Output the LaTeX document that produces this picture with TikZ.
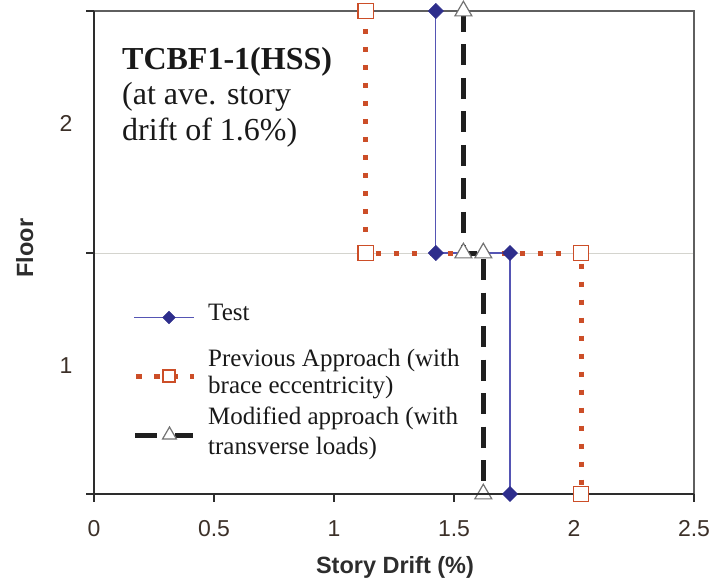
\documentclass[tikz,border=0pt]{standalone}
\usepackage{fontspec}
\setmainfont{Liberation Serif}
\setsansfont{Liberation Sans}
\usetikzlibrary{shapes.geometric}
\definecolor{tblue}{RGB}{46,46,140}
\definecolor{tline}{RGB}{85,85,180}
\definecolor{porange}{RGB}{204,78,40}
\definecolor{axcol}{RGB}{45,45,45}
\definecolor{framecol}{RGB}{95,95,95}
\definecolor{gridcol}{RGB}{212,212,206}
\definecolor{lblcol}{RGB}{60,48,40}
\begin{document}
\begin{tikzpicture}[x=1pt,y=-1pt,
 testline/.style={tline, line width=1.2pt},
 prevline/.style={porange, line width=5pt, dash pattern=on 5.5pt off 12.5pt},
 modline/.style={black!88, line width=5pt, dash pattern=on 21pt off 12.5pt},
 testmark/.style={diamond, aspect=1, fill=tblue, draw=tblue, inner sep=0pt, minimum width=15.5pt, minimum height=15.5pt},
 prevmark/.style={rectangle, draw=porange, fill=white, line width=1.3pt, inner sep=0pt, minimum size=15.5pt},
 modmark/.style={regular polygon, regular polygon sides=3, draw=black!55, fill=white, line width=1.2pt, inner sep=0pt, minimum size=19.5pt},
 ticklbl/.style={font=\sffamily\fontsize{23}{23}\selectfont, text=lblcol, anchor=base, inner sep=0pt},
 axtitle/.style={font=\sffamily\bfseries\fontsize{23.5}{23.5}\selectfont, text=axcol, anchor=base, inner sep=0pt},
 ttl/.style={font=\fontsize{32}{36}\selectfont, anchor=base west, text=black!90, inner sep=0pt},
 leg/.style={font=\fontsize{25}{29}\selectfont, anchor=base west, text=black!90, inner sep=0pt},
 axline/.style={axcol, line width=2pt},
 frameline/.style={framecol, line width=1.6pt},
 gridline/.style={gridcol, line width=1pt},
]
\useasboundingbox (0,0) rectangle (714,585);
% axes corners
\coordinate (TL) at (94,11);
\coordinate (TR) at (694,11);
\coordinate (BL) at (94,494);
\coordinate (BR) at (694,494);
\coordinate (ML) at (94,253);
\coordinate (MR) at (694,253);
% grid and frame
\draw[gridline] (ML) -- (MR);
\draw[frameline] (86,11) -- (TR) -- (BR);
% series coordinates
\coordinate (t2) at (435.8,11);
\coordinate (t1a) at (435.8,253);
\coordinate (t1b) at (510,253);
\coordinate (t0) at (510,494);
\coordinate (p2) at (365.7,11);
\coordinate (p1a) at (365.7,253);
\coordinate (p1b) at (581,253);
\coordinate (p0) at (581,494);
\coordinate (m2) at (463.4,11);
\coordinate (m1a) at (463.4,253);
\coordinate (m1b) at (483.3,253);
\coordinate (m0) at (483.3,494);
% series lines
\draw[testline] (t2) -- (t1a) -- (t1b) -- (t0);
\draw[prevline] (p2) -- (p1a) -- (p1b) -- (p0);
\draw[modline] (m2) -- (m1a) -- (m1b) -- (m0);
% markers (bottom triangle sits under the axis)
\node[modmark] (M0) at (m0) {};
% axes
\draw[axline] (TL) -- (BL);
\draw[axline] (86,494) -- (BR);
\foreach \yy in {11,253,494} \draw[axline] (86,\yy) -- (94,\yy);
\foreach \xx in {94,214,334,454,574,694} \draw[axline] (\xx,494) -- (\xx,502);
% remaining markers
\node[testmark] (T2) at (t2) {};
\node[testmark] (T1a) at (t1a) {};
\node[testmark] (T1b) at (t1b) {};
\node[testmark] (T0) at (t0) {};
\node[prevmark] (P2) at (p2) {};
\node[prevmark] (P1a) at (p1a) {};
\node[prevmark] (P1b) at (p1b) {};
\node[prevmark] (P0) at (p0) {};
\node[modmark] (M2) at (m2) {};
\node[modmark] (M1a) at (m1a) {};
\node[modmark] (M1b) at (m1b) {};
% tick labels
\node[ticklbl] (x0) at (94,536) {0};
\node[ticklbl] (x05) at (214,536) {0.5};
\node[ticklbl] (x1) at (334,536) {1};
\node[ticklbl] (x15) at (454,536) {1.5};
\node[ticklbl] (x2) at (574,536) {2};
\node[ticklbl] (x25) at (694,536) {2.5};
\node[ticklbl] (y2) at (66,132) {2};
\node[ticklbl] (y1) at (66,373) {1};
% axis titles
\node[axtitle] (xt) at (395,573) {Story Drift (\%)};
\node[axtitle, rotate=90] (yt) at (33,248) {Floor};
% title
\node[ttl, font=\bfseries\fontsize{32}{36}\selectfont] (ti1) at (122,70) {TCBF1-1(HSS)};
\node[ttl] (ti2) at (122,105) {(at ave. story};
\node[ttl] (ti3) at (122,141) {drift of 1.6\%)};
% legend
\coordinate (l1a) at (134,317.5); \coordinate (l1b) at (194,317.5);
\draw[testline] (l1a) -- (l1b);
\node[testmark, minimum width=13pt, minimum height=13pt] (L1) at (169,317.5) {};
\coordinate (l2a) at (136,376); \coordinate (l2b) at (194,376);
\draw[prevline, dash pattern=on 6pt off 12pt] (l2a) -- (l2b);
\node[prevmark, minimum size=12pt] (L2) at (169,376) {};
\coordinate (l3a) at (135,435); \coordinate (l3b) at (193,435);
\draw[modline, dash pattern=on 22pt off 18pt] (l3a) -- (l3b);
\node[modmark, minimum size=16pt] (L3) at (169.5,435) {};
\node[leg] (g1) at (208,320.5) {Test};
\node[leg] (g2a) at (208,366) {Previous Approach (with};
\node[leg] (g2b) at (208,393) {brace eccentricity)};
\node[leg] (g3a) at (208,424) {Modified approach (with};
\node[leg] (g3b) at (208,454) {transverse loads)};
\end{tikzpicture}
\end{document}
